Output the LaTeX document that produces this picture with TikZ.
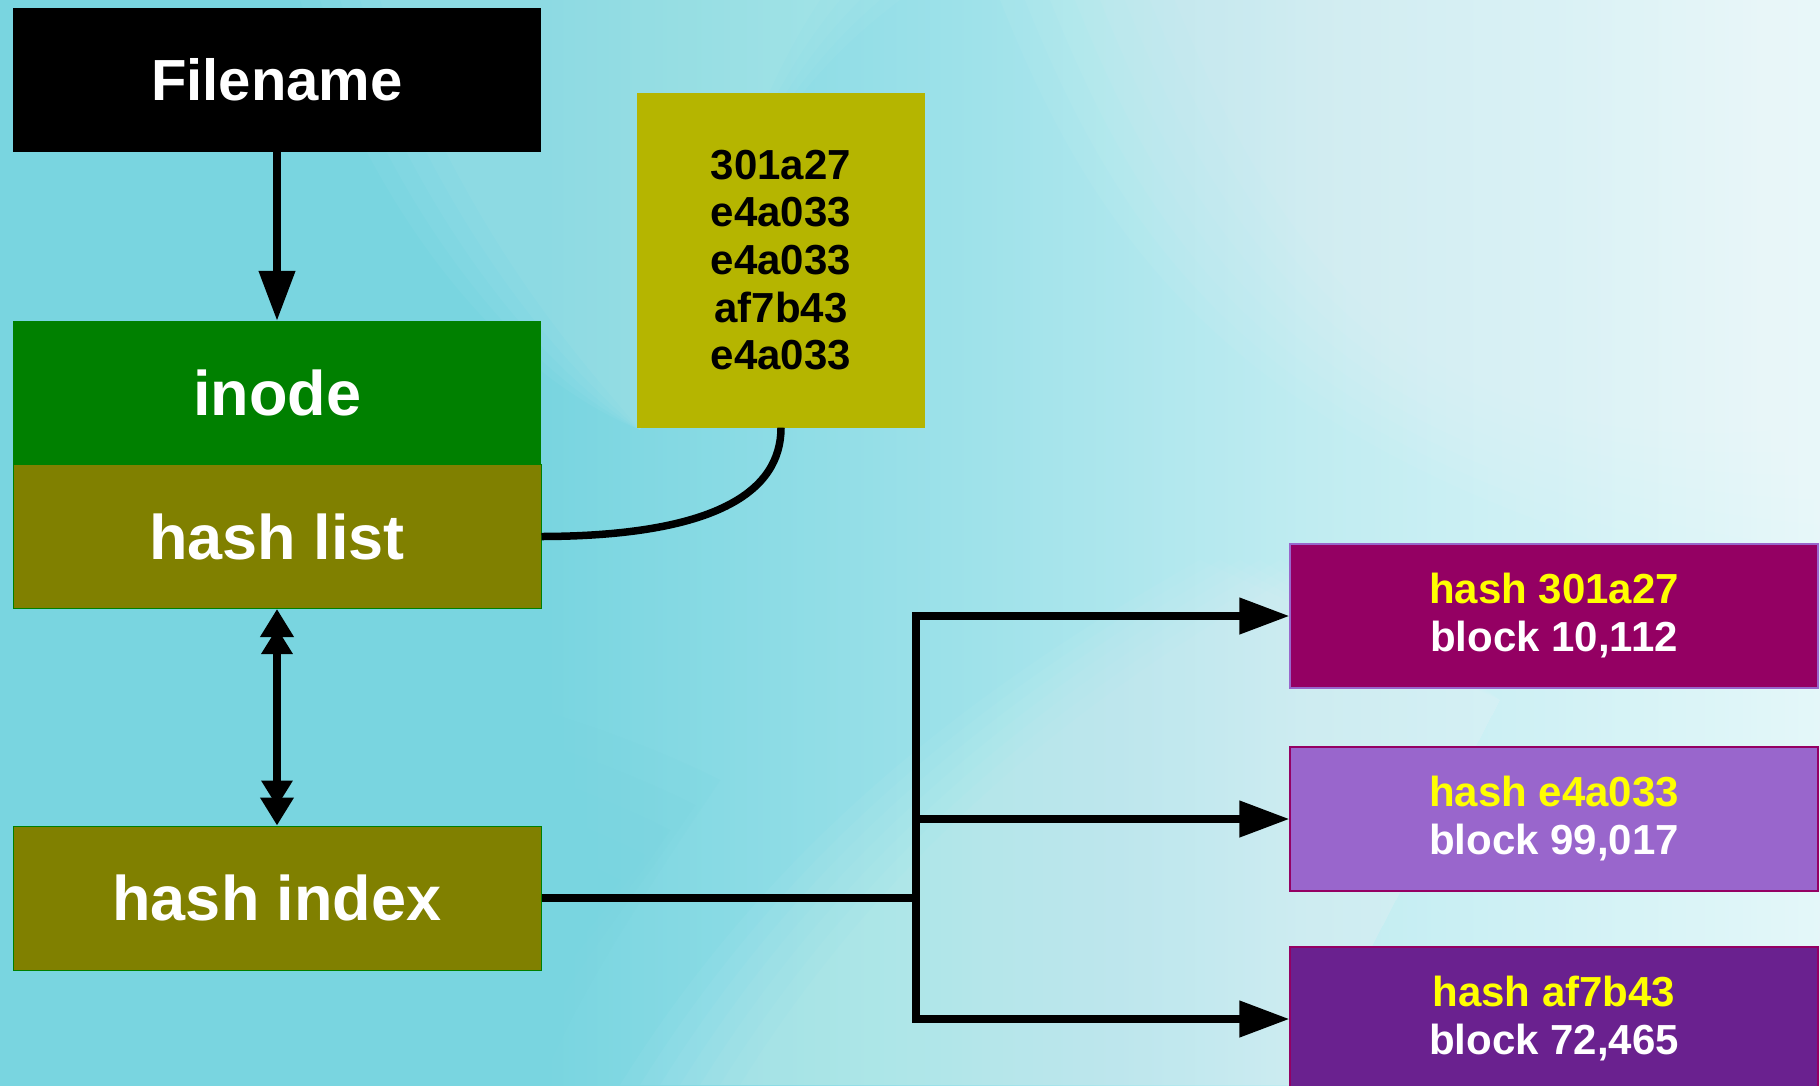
\documentclass[tikz,border=0pt]{standalone}
\usepackage{fontspec}
\setmainfont{Liberation Sans}
\usetikzlibrary{arrows.meta,calc}
\definecolor{bgA}{RGB}{121,213,224}
\definecolor{bgB}{RGB}{156,225,233}
\definecolor{bgC}{RGB}{192,236,241}
\definecolor{bgD}{RGB}{228,247,249}
\definecolor{ingreen}{RGB}{0,128,0}
\definecolor{olivebox}{RGB}{128,128,0}
\definecolor{yelbox}{RGB}{181,181,0}
\definecolor{magbox}{RGB}{148,0,99}
\definecolor{lilbox}{RGB}{153,102,204}
\definecolor{purbox}{RGB}{106,33,143}
\definecolor{hashyel}{RGB}{255,255,0}
\pgfdeclarehorizontalshading{bgshade}{100bp}{color(0bp)=(bgA); color(25bp)=(bgA); color(40bp)=(bgA); color(51bp)=(bgB); color(61bp)=(bgC); color(75bp)=(bgD); color(100bp)=(bgD)}
\tikzset{
  bigbox/.style={minimum width=528pt, minimum height=144pt, inner sep=0pt, text=white,
    font=\fontsize{63}{70}\selectfont\bfseries},
  hashbox/.style={minimum width=528pt, minimum height=144pt, inner sep=0pt, text=white,
    align=center, font=\fontsize{42}{48}\selectfont\bfseries, line width=1.2pt},
  conn/.style={line width=7.5pt, black, line join=miter},
  bigtip/.tip={Triangle[length=50pt,width=35pt]},
  dbltip/.tip={Triangle[length=26pt,width=30pt,sep=-9pt]Triangle[length=28pt,width=32pt]}
}
\begin{document}
\begin{tikzpicture}[x=1pt,y=-1pt]
\useasboundingbox (0,0) rectangle (1820,1085);
% background
\shade[shading=bgshade] (0,0) rectangle (1820,1085);
% soft light region upper right
\foreach \d in {0,25,...,175}{
  \fill[white, opacity=0.045] ($(1000,0)+(\d,0)$) .. controls ($(1100,250)+(\d,0)$) and ($(1250,480)+(\d,0)$) .. ($(1820,600)+(0,-\d)$) -- (1820,0) -- cycle;
}
% soft light streak lower middle
\foreach \d in {0,20,...,120}{
  \fill[white, opacity=0.04] ($(620,1085)+(\d,0)$) .. controls ($(760,860)+(\d,0)$) and ($(950,700)+(\d,0)$) .. ($(1200,560)+(\d,0)$) -- (1500,700) -- (1300,1085) -- cycle;
}
% darker teal lower left
\foreach \d in {0,25,...,125}{
  \fill[bgA, opacity=0.18] (0,600) .. controls ($(300,640)+(-\d,\d)$) and ($(560,700)+(-\d,\d)$) .. ($(720,780)+(-\d,\d)$) .. controls ($(640,900)+(-\d,\d)$) and ($(580,990)+(-\d,0)$) .. ($(540,1085)+(-\d,0)$) -- (0,1085) -- cycle;
}
% faint streak near top left
\foreach \d in {0,20,...,80}{
  \fill[white, opacity=0.035] ($(300,0)+(\d,0)$) .. controls ($(390,250)+(\d,0)$) and ($(520,380)+(\d,0)$) .. (640,430) .. controls (720,250) and (740,120) .. ($(820,0)+(\d,0)$) -- cycle;
}

% left column
\node[bigbox, fill=black, font=\fontsize{58}{66}\selectfont\bfseries] (fname) at (277,80) {Filename};
\node[bigbox, fill=ingreen] (inode) at (277,393) {inode};
\node[bigbox, fill=olivebox, draw=ingreen, line width=1pt] (hlist) at (277,536.5) {hash list};
\node[bigbox, fill=olivebox, draw=ingreen, line width=1pt] (hindex) at (277,898) {hash index};

% hash list values
\node[fill=yelbox, minimum width=288pt, minimum height=335pt, inner sep=0pt, align=center,
  font=\fontsize{42}{47.6}\selectfont\bfseries, text=black] (hvals) at (781,260)
  {301a27\\e4a033\\e4a033\\af7b43\\e4a033};

% right boxes
\node[hashbox, fill=magbox, draw=lilbox] (b1) at (1554,616) {{\color{hashyel}hash 301a27}\\block 10,112};
\node[hashbox, fill=lilbox, draw=magbox] (b2) at (1554,819) {{\color{hashyel}hash e4a033}\\block 99,017};
\node[hashbox, fill=purbox, draw=magbox] (b3) at (1554,1019) {{\color{hashyel}hash af7b43}\\block 72,465};

% junctions
\coordinate (j1) at (916,616);
\coordinate (j2) at (916,819);
\coordinate (j3) at (916,1019);
\coordinate (j4) at (916,898);

% connectors
\draw[conn, -{bigtip}] (fname.south) -- (inode.north);
\draw[conn, {dbltip}-{dbltip}] (hlist.south) -- (hindex.north);
\draw[conn] (hlist.east) .. controls (715,536) and (781,492) .. (hvals.south);
\draw[conn] (hindex.east) -- (j4);
\draw[conn, {bigtip}-{bigtip}] (b1.west) -- (j1) -- (j3) -- (b3.west);
\draw[conn, -{bigtip}] (j2) -- (b2.west);
\end{tikzpicture}
\end{document}
